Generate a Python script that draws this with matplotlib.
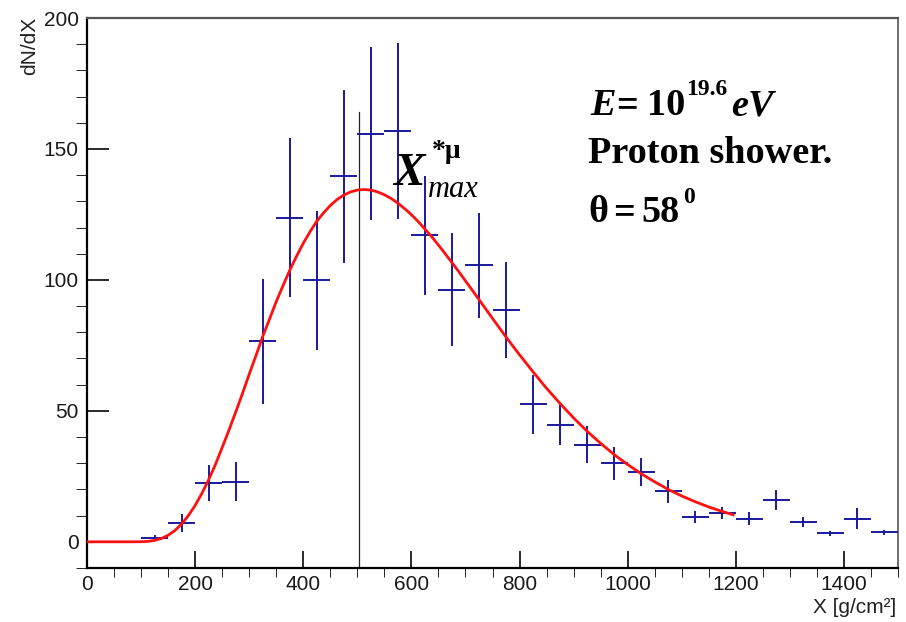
import numpy as np
import matplotlib
matplotlib.use('Agg')
import matplotlib.pyplot as plt
from matplotlib.ticker import MultipleLocator

# histogram bins (centres, 50 g/cm2 wide)
x_bins = [125, 175, 225, 275, 325, 375, 425, 475, 525, 575, 625, 675, 725, 775,
          825, 875, 925, 975, 1025, 1075, 1125, 1175, 1225, 1275, 1325, 1375, 1425, 1475]
counts = [1.5, 7.2, 22.4, 23.0, 76.5, 123.7, 99.8, 139.5, 155.8, 157.0, 117.0, 96.3, 105.6, 88.5,
          52.5, 44.7, 37.1, 30.0, 26.6, 19.3, 9.4, 11.0, 8.8, 15.9, 7.5, 3.2, 8.8, 3.7]
count_err = [1.2, 3.5, 7.0, 7.3, 24.0, 30.3, 26.4, 33.2, 33.0, 33.6, 22.8, 21.5, 20.0, 18.2,
             11.3, 7.7, 7.0, 6.3, 5.3, 4.3, 2.4, 2.3, 2.4, 3.7, 1.8, 1.0, 4.0, 1.0]
bin_half = 25

# fitted curve (denser where it bends)
fit_x = [0, 25, 50, 75, 100, 112.5, 125, 137.5, 150, 162.5, 175, 187.5, 200, 212.5, 225, 237.5,
         250, 262.5, 275, 287.5, 300, 312.5, 325, 337.5, 350, 362.5, 375, 387.5, 400, 412.5,
         425, 437.5, 450, 462.5, 475, 487.5, 500, 512.5, 525, 537.5, 550, 562.5, 575, 587.5,
         600, 612.5, 625, 637.5, 650, 662.5, 675, 687.5, 700, 712.5, 725, 750, 775, 800, 825,
         850, 875, 900, 925, 950, 975, 1000, 1025, 1050, 1075, 1100, 1125, 1150, 1175, 1195]
fit_y = [0, 0, 0, 0, 0.03, 0.16, 0.55, 1.26, 2.5, 4.3, 6.8, 10.0, 13.9, 18.5, 23.7, 29.5,
         36.0, 42.6, 49.5, 56.6, 64.0, 71.1, 78.4, 85.0, 91.7, 97.8, 103.7, 109.0, 114.0, 118.4,
         122.4, 125.6, 128.4, 130.7, 132.4, 133.6, 134.3, 134.5, 134.3, 133.6, 132.5, 131.1, 129.3, 127.2,
         124.9, 122.3, 119.4, 116.5, 113.3, 110.0, 106.6, 103.2, 99.6, 96.1, 92.5, 85.3, 78.2, 71.4, 64.9,
         58.6, 52.8, 47.3, 42.2, 37.6, 33.3, 29.5, 26.0, 22.9, 20.0, 17.5, 15.3, 13.3, 11.6, 10.3]

xmax_line = 503
xmax_top = 164

blue = '#1a1a9c'

fig = plt.figure(figsize=(9.06, 6.22), dpi=100)
ax = fig.add_axes([87/906, 54/622, 811/906, 550/622])

ax.errorbar(x_bins, counts, xerr=bin_half, yerr=count_err, fmt='none',
            ecolor=blue, elinewidth=1.4, capsize=0, zorder=3)
ax.plot(fit_x, fit_y, color='#ff1010', lw=2.0, zorder=4, solid_joinstyle='round')
ax.plot([xmax_line, xmax_line], [-10, xmax_top], color='#222222', lw=0.9, zorder=2)

ax.set_xlim(0, 1500)
ax.set_ylim(-10, 200)
ax.xaxis.set_major_locator(MultipleLocator(200))
ax.xaxis.set_minor_locator(MultipleLocator(50))
ax.yaxis.set_major_locator(MultipleLocator(50))
ax.yaxis.set_minor_locator(MultipleLocator(10))

ax.tick_params(direction='in', top=False, right=False, colors='#1a1a1a',
               labelsize=15, width=1.3)
ax.tick_params(axis='y', which='major', length=16, pad=6)
ax.tick_params(axis='y', which='minor', length=8)
ax.tick_params(axis='x', which='major', length=12, pad=5)
ax.tick_params(axis='x', which='minor', length=6.5)
for lab in ax.get_xticklabels() + ax.get_yticklabels():
    lab.set_fontfamily('Liberation Sans')

ax.spines['left'].set_linewidth(1.6)
ax.spines['bottom'].set_linewidth(1.6)
ax.spines['top'].set_linewidth(1.6)
ax.spines['top'].set_color('#555555')
ax.spines['right'].set_linewidth(1.2)
ax.spines['right'].set_color('#555555')

fig.text(30/906, 1 - 17/622, 'dN/dX', rotation=90, ha='center', va='top',
         fontsize=15, family='Liberation Sans', color='#222222')
fig.text(896/906, 1 - 613/622, 'X [g/cm²]', ha='right', va='baseline',
         fontsize=15, family='Liberation Sans', color='#222222')


def put(px, py, s, size, style='normal', weight='bold'):
    fig.text(px/906, 1 - py/622, s, ha='left', va='baseline', fontsize=size,
             family='Liberation Serif', style=style, weight=weight, color='black')


big = 27.5
# E = 10^19.6 eV
put(590, 115, 'E', big, style='italic')
put(616, 115, '=', big)
put(647, 115, '10', big)
put(686, 95, '19.6', 17)
put(731, 115, 'eV', big, style='italic')
# Proton shower.
put(588, 163, 'Proton shower.', big)
# theta = 58^0
put(588, 222, 'θ', big)
put(613, 222, '=', big)
put(641, 222, '58', big)
put(683, 203, '0', 17)
# X*mu max
put(393, 185, 'X', 34, style='italic')
put(432, 158, '*μ', 20)
put(428, 197, 'max', 22, style='italic', weight='normal')

fig.savefig('out.png', dpi=100)
